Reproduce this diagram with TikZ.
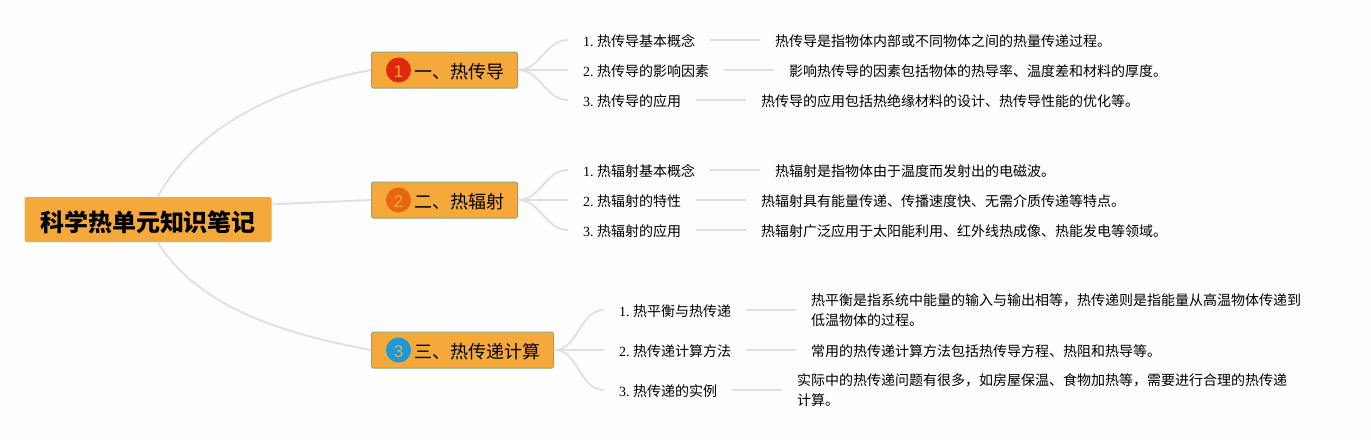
\documentclass[tikz,border=0pt]{standalone}
\usepackage{fontspec}
\setmainfont{Liberation Serif}
\setsansfont{Liberation Sans}
\newfontfamily\cjk{Noto Sans CJK SC}
\frenchspacing
\definecolor{boxorange}{HTML}{F4A93A}
\definecolor{boxedge}{HTML}{8FA67C}
\definecolor{linkgray}{HTML}{E0E0E0}
\definecolor{pagegray}{HTML}{FDFDFD}
\definecolor{markred}{HTML}{E0280C}
\definecolor{markorange}{HTML}{E8660E}
\definecolor{markblue}{HTML}{1A9AD8}
\tikzset{
	rootbox/.style={fill=boxorange, rounded corners=2pt, minimum height=45pt, inner xsep=15.5pt, inner ysep=0pt, font=\cjk\bfseries\fontsize{24}{28}\selectfont, execute at begin node=\rule{0pt}{25.5pt}},
	branchbox/.style={draw=boxedge, fill=boxorange, rounded corners=1.5pt, line width=1pt, minimum height=36pt, inner xsep=13.5pt, inner ysep=0pt, anchor=west, font=\cjk\fontsize{18}{22}\selectfont, execute at begin node={\rule{0pt}{18pt}\hspace{29pt}}},
	markdot/.style={circle, minimum size=25pt, inner sep=0pt, text=boxorange, font=\sffamily\fontsize{17}{20}\selectfont, execute at begin node=\rule{0pt}{14.5pt}},
	leafbox/.style={anchor=west, inner xsep=15pt, inner ysep=0pt, font=\fontsize{14}{20}\selectfont, execute at begin node=\rule{0pt}{14.5pt}},
	notebox/.style={anchor=west, align=left, inner xsep=15pt, inner ysep=0pt, font=\cjk\fontsize{14}{20}\selectfont, execute at begin node=\rule{0pt}{14.5pt}},
	link/.style={draw=linkgray, line width=1.8pt},
	fan/.style={link, out=0, in=180}
}
\begin{document}
\begin{tikzpicture}[x=1pt, y=-1pt]
	\fill[pagegray] (0,0) rectangle (1371,440);
	\useasboundingbox (0,0) rectangle (1371,440);

	\draw (148, 219.5) node[rootbox] (root) {科学热单元知识笔记};
	\draw (371, 70)  node[branchbox] (heat1) {一、热传导};
	\draw (371, 200) node[branchbox] (heat2) {二、热辐射};
	\draw (371, 350) node[branchbox] (heat3) {三、热传递计算};
	\draw (398.5, 70)  node[markdot, fill=markred] (mark1) {1};
	\draw (398.5, 200) node[markdot, fill=markorange] (mark2) {2};
	\draw (398.5, 350) node[markdot, fill=markblue] (mark3) {3};

	\draw (568, 40)  node[leafbox] (a1) {1. {\cjk 热传导基本概念}};
	\draw (568, 70)  node[leafbox] (a2) {2. {\cjk 热传导的影响因素}};
	\draw (568, 100) node[leafbox] (a3) {3. {\cjk 热传导的应用}};
	\draw (568, 170) node[leafbox] (b1) {1. {\cjk 热辐射基本概念}};
	\draw (568, 200) node[leafbox] (b2) {2. {\cjk 热辐射的特性}};
	\draw (568, 230) node[leafbox] (b3) {3. {\cjk 热辐射的应用}};
	\draw (604, 310) node[leafbox] (c1) {1. {\cjk 热平衡与热传递}};
	\draw (604, 350) node[leafbox] (c2) {2. {\cjk 热传递计算方法}};
	\draw (604, 390) node[leafbox] (c3) {3. {\cjk 热传递的实例}};

	\draw (760, 40)  node[notebox] (a1') {热传导是指物体内部或不同物体之间的热量传递过程。};
	\draw (774, 70)  node[notebox] (a2') {影响热传导的因素包括物体的热导率、温度差和材料的厚度。};
	\draw (746, 100) node[notebox] (a3') {热传导的应用包括热绝缘材料的设计、热传导性能的优化等。};
	\draw (760, 170) node[notebox] (b1') {热辐射是指物体由于温度而发射出的电磁波。};
	\draw (746, 200) node[notebox] (b2') {热辐射具有能量传递、传播速度快、无需介质传递等特点。};
	\draw (746, 230) node[notebox] (b3') {热辐射广泛应用于太阳能利用、红外线热成像、热能发电等领域。};
	\draw (796, 310) node[notebox] (c1') {热平衡是指系统中能量的输入与输出相等，热传递则是指能量从高温物体传递到\\低温物体的过程。};
	\draw (796, 350) node[notebox] (c2') {常用的热传递计算方法包括热传导方程、热阻和热导等。};
	\draw (782, 390) node[notebox] (c3') {实际中的热传递问题有很多，如房屋保温、食物加热等，需要进行合理的热传递\\计算。};

	\draw[link] (root.67) .. controls (200, 120) and (290, 85) .. (heat1.west);
	\draw[link] (root.7.4) -- (heat2.west);
	\draw[link] (root.-67) .. controls (200, 310) and (290, 335) .. (heat3.west);

	\draw[fan] (heat1.east) to (a1.west);
	\draw[link] (heat1.east) -- (a2.west);
	\draw[fan] (heat1.east) to (a3.west);
	\draw[fan] (heat2.east) to (b1.west);
	\draw[link] (heat2.east) -- (b2.west);
	\draw[fan] (heat2.east) to (b3.west);
	\draw[fan] (heat3.east) to (c1.west);
	\draw[link] (heat3.east) -- (c2.west);
	\draw[fan] (heat3.east) to (c3.west);

	\draw[link] (a1) -- (a1');
	\draw[link] (a2) -- (a2');
	\draw[link] (a3) -- (a3');
	\draw[link] (b1) -- (b1');
	\draw[link] (b2) -- (b2');
	\draw[link] (b3) -- (b3');
	\draw[link] (c1) -- (c1');
	\draw[link] (c2) -- (c2');
	\draw[link] (c3) -- (c3');
\end{tikzpicture}
\end{document}
